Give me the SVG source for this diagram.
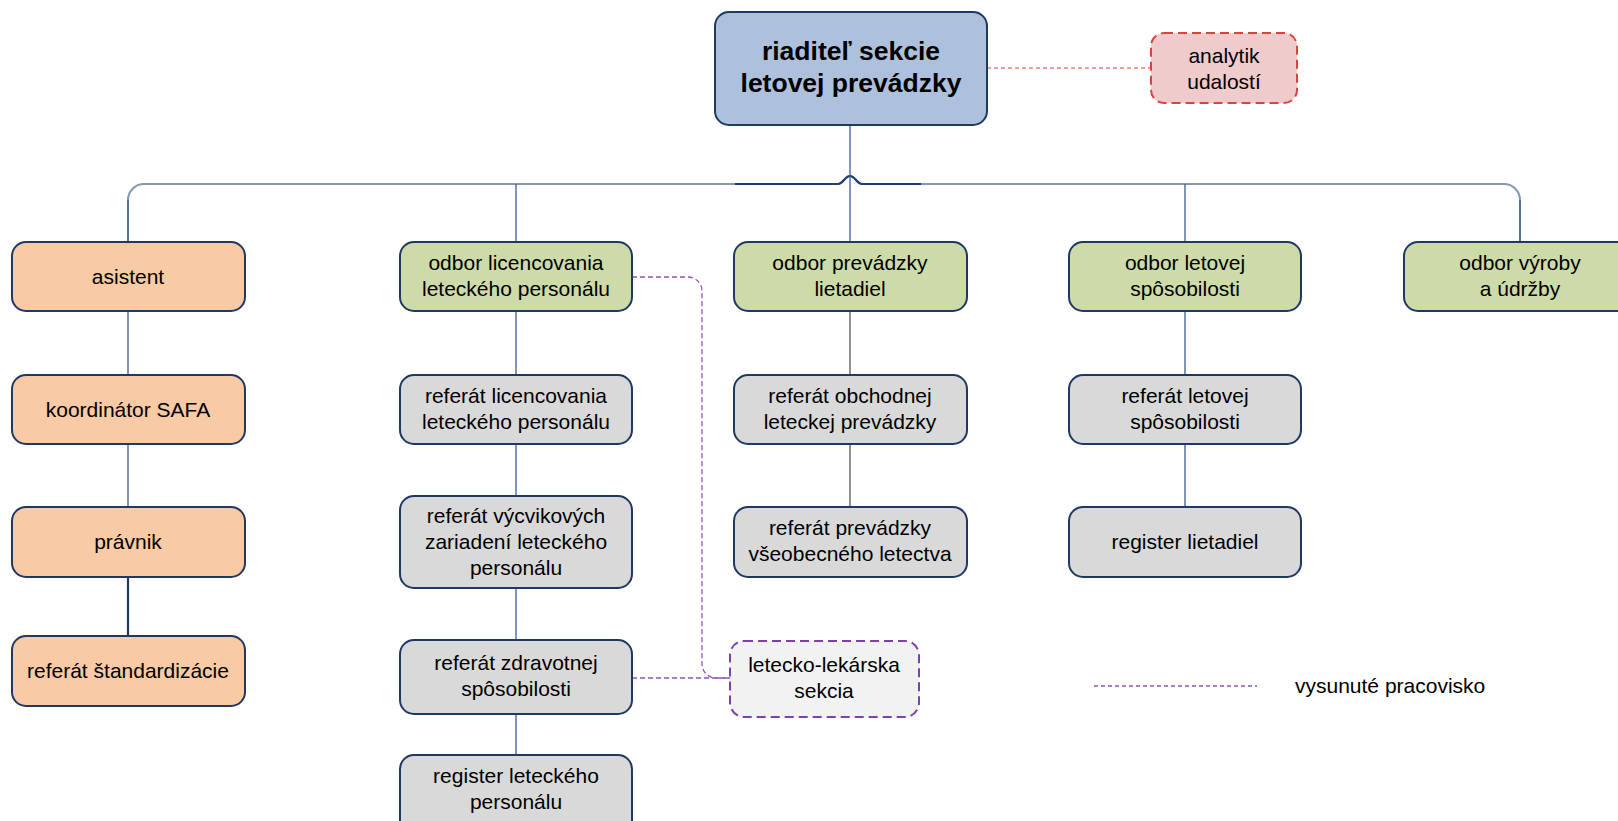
<svg xmlns="http://www.w3.org/2000/svg" width="1618" height="821" viewBox="0 0 1618 821">
<style>
text{font-family:"Liberation Sans",Arial,sans-serif;font-size:21px;fill:#000;text-anchor:middle}
.b{stroke:#1f3864;stroke-width:2}
.or{fill:#f8cba6}
.gr{fill:#cddba9}
.gy{fill:#d9d9d9}
.ln{fill:none;stroke:#3e5c8e;stroke-width:1.3}
.gl{fill:none;stroke:#555;stroke-width:1.3}
.pd{fill:none;stroke:#8e55b8;stroke-width:1.3;stroke-dasharray:5 3}
</style>
<g id="connectors">
<path d="M128 242 V200 A16 16 0 0 1 144 184 H838 C843 184 845 176 850 176 C855 176 857 184 862 184 H1504 A16 16 0 0 1 1520 200 V242" fill="none" stroke="#8497b4" stroke-width="2"/>
<path d="M735 184 H838 C843 184 845 176 850 176 C855 176 857 184 862 184 H921" fill="none" stroke="#1f3f74" stroke-width="2.2"/>
<path class="ln" d="M128 200 V242 M516 184 V242 M850 125 V242 M1185 184 V242 M1520 200 V242"/>
<path class="ln" d="M128 311 V375 M128 444 V507"/>
<path d="M128 577 V636" fill="none" stroke="#1f3864" stroke-width="2.2"/>
<path class="ln" d="M516 311 V375 M516 444 V496 M516 588 V640 M516 714 V755"/>
<path class="gl" d="M850 311 V375 M850 444 V507"/>
<path class="ln" d="M1185 311 V375 M1185 444 V507"/>
<path d="M987 68 H1151" fill="none" stroke="#d9443f" stroke-width="1.2" stroke-dasharray="4 3"/>
<path class="pd" d="M632 277 H688 A14 14 0 0 1 702 291 V664 A14 14 0 0 0 716 678 H730"/>
<path class="pd" d="M632 678 H730"/>
</g>
<g id="n_riaditel">
<rect x="715" y="12" width="272" height="113" rx="14" fill="#adc1dc" class="b"/>
<text x="851" y="60" style="font-weight:bold;font-size:26.5px">riaditeľ sekcie</text>
<text x="851" y="92" style="font-weight:bold;font-size:26.5px">letovej prevádzky</text>
</g>
<g id="n_analytik">
<rect x="1151" y="33" width="146" height="70" rx="13" fill="#efcbcb" stroke="#d9443f" stroke-width="2" stroke-dasharray="9 5"/>
<text x="1224" y="63">analytik</text>
<text x="1224" y="89">udalostí</text>
</g>
<g id="n_asistent"><rect x="12" y="242" width="233" height="69" rx="14" class="b or"/><text x="128" y="284">asistent</text></g>
<g id="n_koordinator"><rect x="12" y="375" width="233" height="69" rx="14" class="b or"/><text x="128" y="417">koordinátor SAFA</text></g>
<g id="n_pravnik"><rect x="12" y="507" width="233" height="70" rx="14" class="b or"/><text x="128" y="549">právnik</text></g>
<g id="n_standard"><rect x="12" y="636" width="233" height="70" rx="14" class="b or"/><text x="128" y="678">referát štandardizácie</text></g>

<g id="n_odbor_lic"><rect x="400" y="242" width="232" height="69" rx="14" class="b gr"/><text x="516" y="270">odbor licencovania</text><text x="516" y="296">leteckého personálu</text></g>
<g id="n_ref_lic"><rect x="400" y="375" width="232" height="69" rx="14" class="b gy"/><text x="516" y="403">referát licencovania</text><text x="516" y="429">leteckého personálu</text></g>
<g id="n_ref_vycvik"><rect x="400" y="496" width="232" height="92" rx="14" class="b gy"/><text x="516" y="523">referát výcvikových</text><text x="516" y="549">zariadení leteckého</text><text x="516" y="575">personálu</text></g>
<g id="n_ref_zdrav"><rect x="400" y="640" width="232" height="74" rx="14" class="b gy"/><text x="516" y="670">referát zdravotnej</text><text x="516" y="696">spôsobilosti</text></g>
<g id="n_register_lp"><rect x="400" y="755" width="232" height="80" rx="14" class="b gy"/><text x="516" y="783">register leteckého</text><text x="516" y="809">personálu</text></g>

<g id="n_odbor_prev"><rect x="734" y="242" width="233" height="69" rx="14" class="b gr"/><text x="850" y="270">odbor prevádzky</text><text x="850" y="296">lietadiel</text></g>
<g id="n_ref_obch"><rect x="734" y="375" width="233" height="69" rx="14" class="b gy"/><text x="850" y="403">referát obchodnej</text><text x="850" y="429">leteckej prevádzky</text></g>
<g id="n_ref_vseob"><rect x="734" y="507" width="233" height="70" rx="14" class="b gy"/><text x="850" y="535">referát prevádzky</text><text x="850" y="561">všeobecného letectva</text></g>

<g id="n_odbor_let"><rect x="1069" y="242" width="232" height="69" rx="14" class="b gr"/><text x="1185" y="270">odbor letovej</text><text x="1185" y="296">spôsobilosti</text></g>
<g id="n_ref_let"><rect x="1069" y="375" width="232" height="69" rx="14" class="b gy"/><text x="1185" y="403">referát letovej</text><text x="1185" y="429">spôsobilosti</text></g>
<g id="n_register_l"><rect x="1069" y="507" width="232" height="70" rx="14" class="b gy"/><text x="1185" y="549">register lietadiel</text></g>

<g id="n_odbor_vyr"><rect x="1404" y="242" width="232" height="69" rx="14" class="b gr"/><text x="1520" y="270">odbor výroby</text><text x="1520" y="296">a údržby</text></g>

<g id="n_lekarska">
<rect x="730" y="641" width="189" height="76" rx="14" fill="#f2f2f2" stroke="#7e3fb0" stroke-width="2" stroke-dasharray="9 5"/>
<text x="824" y="672">letecko-lekárska</text>
<text x="824" y="698">sekcia</text>
</g>
<g id="legend">
<path class="pd" d="M1094 686 H1257" style="stroke-dasharray:4 3"/>
<text x="1295" y="693" style="text-anchor:start">vysunuté pracovisko</text>
</g>
</svg>
